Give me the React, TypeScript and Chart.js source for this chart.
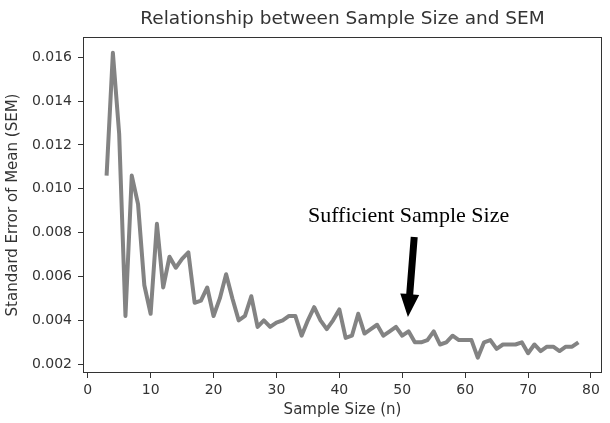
import React, { useEffect, useRef } from "react";
import { Chart, registerables } from "chart.js";

Chart.register(...registerables);

const sampleSizes = [
  3, 4, 5, 6, 7, 8, 9, 10, 11, 12, 13, 14, 15, 16, 17, 18, 19, 20, 21, 22,
  23, 24, 25, 26, 27, 28, 29, 30, 31, 32, 33, 34, 35, 36, 37, 38, 39, 40, 41, 42,
  43, 44, 45, 46, 47, 48, 49, 50, 51, 52, 53, 54, 55, 56, 57, 58, 59, 60, 61, 62,
  63, 64, 65, 66, 67, 68, 69, 70, 71, 72, 73, 74, 75, 76, 77, 78,
];

const semValues = [
  0.0106, 0.0162, 0.0125, 0.0042, 0.0106, 0.0093, 0.0056, 0.0043, 0.0084, 0.0055,
  0.0069, 0.0064, 0.0068, 0.0071, 0.0048, 0.0049, 0.0055, 0.0042, 0.005, 0.0061,
  0.005, 0.004, 0.0042, 0.0051, 0.0037, 0.004, 0.0037, 0.0039, 0.004, 0.0042,
  0.0042, 0.0033, 0.004, 0.0046, 0.004, 0.0036, 0.004, 0.0045, 0.0032, 0.0033,
  0.0043, 0.0034, 0.0036, 0.0038, 0.0033, 0.0035, 0.0037, 0.0033, 0.0035, 0.003,
  0.003, 0.0031, 0.0035, 0.0029, 0.003, 0.0033, 0.0031, 0.0031, 0.0031, 0.0023,
  0.003, 0.0031, 0.0027, 0.0029, 0.0029, 0.0029, 0.003, 0.0025, 0.0029, 0.0026,
  0.0028, 0.0028, 0.0026, 0.0028, 0.0028, 0.003,
];

const xTicks = [0, 10, 20, 30, 40, 50, 60, 70, 80];
const yTicks = [0.002, 0.004, 0.006, 0.008, 0.01, 0.012, 0.014, 0.016];

const chartTitle = "Relationship between Sample Size and SEM";
const xTitle = "Sample Size (n)";
const yTitle = "Standard Error of Mean (SEM)";
const annotationText = "Sufficient Sample Size";
// annotation anchor points in data units
const annotationTextAt = { x: 51, y: 0.00848 };
const arrowTail = { x: 51.9, y: 0.0078 };
const arrowTip = { x: 50.9, y: 0.00415 };

const AXIS_COLOR = "#333333";
const TEXT_COLOR = "#333333";

const overlayPlugin = {
  id: "overlay",
  afterDraw(chart: any) {
    const { ctx, chartArea, scales } = chart;
    const xs = scales.x;
    const ys = scales.y;
    ctx.save();
    // frame
    ctx.strokeStyle = AXIS_COLOR;
    ctx.lineWidth = 1;
    const l = Math.round(chartArea.left) + 0.5;
    const t = Math.round(chartArea.top) + 0.5;
    const r = Math.round(chartArea.right) - 0.5;
    const b = Math.round(chartArea.bottom) - 0.5;
    ctx.strokeRect(l, t, r - l, b - t);

    // title
    ctx.fillStyle = TEXT_COLOR;
    ctx.font = '18.5px "DejaVu Sans"';
    ctx.textAlign = "center";
    ctx.textBaseline = "middle";
    ctx.fillText(chartTitle, (chartArea.left + chartArea.right) / 2, 19);

    // annotation text
    ctx.fillStyle = "#000000";
    ctx.font = '22px "Liberation Serif"';
    ctx.textAlign = "center";
    ctx.textBaseline = "alphabetic";
    ctx.fillText(
      annotationText,
      xs.getPixelForValue(annotationTextAt.x),
      ys.getPixelForValue(annotationTextAt.y)
    );

    // arrow
    const x1 = xs.getPixelForValue(arrowTail.x);
    const y1 = ys.getPixelForValue(arrowTail.y);
    const x2 = xs.getPixelForValue(arrowTip.x);
    const y2 = ys.getPixelForValue(arrowTip.y);
    const dx = x2 - x1;
    const dy = y2 - y1;
    const len = Math.sqrt(dx * dx + dy * dy);
    const ux = dx / len;
    const uy = dy / len;
    const px = -uy;
    const py = ux;
    const shaftHalf = 3.5;
    const headLen = 23;
    const headHalf = 9.5;
    const hx = x2 - ux * headLen;
    const hy = y2 - uy * headLen;
    ctx.fillStyle = "#000000";
    ctx.beginPath();
    ctx.moveTo(x1 + px * shaftHalf, y1 + py * shaftHalf);
    ctx.lineTo(hx + px * shaftHalf, hy + py * shaftHalf);
    ctx.lineTo(hx + px * headHalf, hy + py * headHalf);
    ctx.lineTo(x2, y2);
    ctx.lineTo(hx - px * headHalf, hy - py * headHalf);
    ctx.lineTo(hx - px * shaftHalf, hy - py * shaftHalf);
    ctx.lineTo(x1 - px * shaftHalf, y1 - py * shaftHalf);
    ctx.closePath();
    ctx.fill();
    ctx.restore();
  },
};

export default function App() {
  const canvasRef = useRef<HTMLCanvasElement | null>(null);

  useEffect(() => {
    const canvas = canvasRef.current;
    if (!canvas) return;
    const points = sampleSizes.map((n, i) => ({ x: n, y: semValues[i] }));
    const chart = new Chart(canvas, {
      type: "line",
      data: {
        datasets: [
          {
            data: points,
            borderColor: "#838383",
            borderWidth: 4,
            pointRadius: 0,
            tension: 0,
            borderJoinStyle: "round",
            borderCapStyle: "butt",
            fill: false,
          },
        ],
      },
      options: {
        animation: false,
        responsive: false,
        maintainAspectRatio: false,
        devicePixelRatio: 1,
        layout: { padding: { top: 37, right: 8, left: 0, bottom: 0 } },
        plugins: {
          legend: { display: false },
          title: { display: false },
          tooltip: { enabled: false },
        },
        scales: {
          x: {
            type: "linear",
            min: -0.75,
            max: 81.75,
            afterBuildTicks: (scale: any) => {
              scale.ticks = xTicks.map((v) => ({ value: v }));
            },
            afterFit: (scale: any) => {
              scale.height = 50;
            },
            border: { display: false },
            grid: {
              drawOnChartArea: false,
              drawTicks: true,
              tickLength: 5,
              color: AXIS_COLOR,
            },
            ticks: {
              color: TEXT_COLOR,
              font: { family: "DejaVu Sans", size: 14 },
              padding: 4,
              maxRotation: 0,
              autoSkip: false,
              callback: (v: any) => String(v),
            },
            title: {
              display: true,
              text: xTitle,
              color: TEXT_COLOR,
              font: { family: "DejaVu Sans", size: 15 },
              padding: { top: 0, bottom: 4 },
            },
          },
          y: {
            type: "linear",
            min: 0.0016,
            max: 0.01692,
            afterBuildTicks: (scale: any) => {
              scale.ticks = yTicks.map((v) => ({ value: v }));
            },
            afterFit: (scale: any) => {
              scale.width = 83;
            },
            border: { display: false },
            grid: {
              drawOnChartArea: false,
              drawTicks: true,
              tickLength: 5,
              color: AXIS_COLOR,
            },
            ticks: {
              color: TEXT_COLOR,
              font: { family: "DejaVu Sans", size: 14 },
              padding: 6,
              autoSkip: false,
              callback: (v: any) => Number(v).toFixed(3),
            },
            title: {
              display: true,
              text: yTitle,
              color: TEXT_COLOR,
              font: { family: "DejaVu Sans", size: 15 },
              padding: { top: 4, bottom: 0 },
            },
          },
        },
      },
      plugins: [overlayPlugin],
    });
    return () => chart.destroy();
  }, []);

  return (
    <div style={{ position: "absolute", left: 0, top: 0, width: 610, height: 423, background: "#ffffff" }}>
      <canvas ref={canvasRef} width={610} height={423} style={{ display: "block" }} />
    </div>
  );
}
